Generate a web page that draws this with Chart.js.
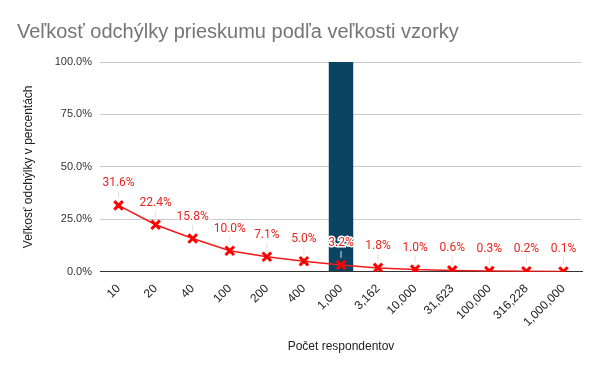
<!DOCTYPE html>
<html>
<head>
<meta charset="utf-8">
<script src="https://cdn.jsdelivr.net/npm/chart.js@4"></script>
<style>
  html, body { margin: 0; padding: 0; background: #fff; }
  #wrap { width: 600px; height: 371px; }
</style>
</head>
<body>
<div id="wrap"><canvas id="chart" width="600" height="371"></canvas></div>
<script>
const categories = ['10', '20', '40', '100', '200', '400', '1,000', '3,162', '10,000', '31,623', '100,000', '316,228', '1,000,000'];
const marginValues = [31.6, 22.4, 15.8, 10.0, 7.1, 5.0, 3.2, 1.8, 1.0, 0.6, 0.3, 0.2, 0.1];
const highlightBar = [null, null, null, null, null, null, 100, null, null, null, null, null, null];
const yTicks = [0, 25, 50, 75, 100];

// popisky nad bodmi čiary
const pointLabels = {
  id: 'pointLabels',
  afterDatasetsDraw(chart) {
    const ctx = chart.ctx;
    const meta = chart.getDatasetMeta(1);
    ctx.save();
    ctx.font = '12px Roboto, Arial, sans-serif';
    ctx.textAlign = 'center';
    ctx.textBaseline = 'middle';
    meta.data.forEach((pt, i) => {
      const txt = marginValues[i].toFixed(1) + '%';
      const y = pt.y - 22;
      ctx.strokeStyle = '#e0e0e0';
      ctx.lineWidth = 1;
      ctx.beginPath();
      ctx.moveTo(pt.x, y + 8);
      ctx.lineTo(pt.x, pt.y - 7);
      ctx.stroke();
      ctx.lineWidth = 3;
      ctx.strokeStyle = '#ffffff';
      ctx.strokeText(txt, pt.x, y);
      ctx.fillStyle = '#e8241c';
      ctx.fillText(txt, pt.x, y);
    });
    ctx.restore();
  }
};

const ctx = document.getElementById('chart').getContext('2d');
new Chart(ctx, {
  type: 'bar',
  data: {
    labels: categories,
    datasets: [
      {
        type: 'bar',
        data: highlightBar,
        backgroundColor: '#0b4462',
        barPercentage: 0.66,
        categoryPercentage: 1,
        order: 2
      },
      {
        type: 'line',
        data: marginValues,
        borderColor: '#f21a1a',
        backgroundColor: '#ff0000',
        borderWidth: 1.5,
        pointStyle: 'crossRot',
        pointRadius: 6,
        pointBorderWidth: 3,
        pointBorderColor: '#ff0000',
        tension: 0,
        order: 1
      }
    ]
  },
  options: {
    responsive: false,
    animation: false,
    layout: { padding: { left: 17, right: 18, top: 0, bottom: 13 } },
    plugins: {
      legend: { display: false },
      tooltip: { enabled: false },
      title: {
        display: true,
        text: 'Veľkosť odchýlky prieskumu podľa veľkosti vzorky',
        align: 'start',
        color: '#757575',
        font: { family: 'Arial, Liberation Sans, sans-serif', size: 20, weight: 'normal' },
        padding: { top: 20, bottom: 18 }
      }
    },
    scales: {
      x: {
        grid: { display: false },
        border: { color: '#333333', width: 1 },
        ticks: {
          color: '#222222',
          font: { family: 'Arial, Liberation Sans, sans-serif', size: 12 },
          maxRotation: 45,
          minRotation: 45,
          autoSkip: false,
          padding: 2
        },
        title: {
          display: true,
          text: 'Počet respondentov',
          color: '#222222',
          font: { family: 'Arial, Liberation Sans, sans-serif', size: 12 },
          padding: { top: 8 }
        }
      },
      y: {
        min: 0,
        max: 100,
        afterBuildTicks(axis) { axis.ticks = yTicks.map(v => ({ value: v })); },
        afterFit(axis) { axis.width = 83; },
        grid: { color: '#cccccc', drawTicks: false },
        border: { display: false },
        ticks: {
          color: '#333333',
          font: { family: 'Arial, Liberation Sans, sans-serif', size: 11 },
          padding: 8,
          callback: v => v.toFixed(1) + '%'
        },
        title: {
          display: true,
          text: 'Veľkosť odchýlky v percentách',
          color: '#222222',
          font: { family: 'Arial, Liberation Sans, sans-serif', size: 12 },
          padding: { bottom: 6 }
        }
      }
    }
  },
  plugins: [pointLabels]
});
</script>
</body>
</html>
